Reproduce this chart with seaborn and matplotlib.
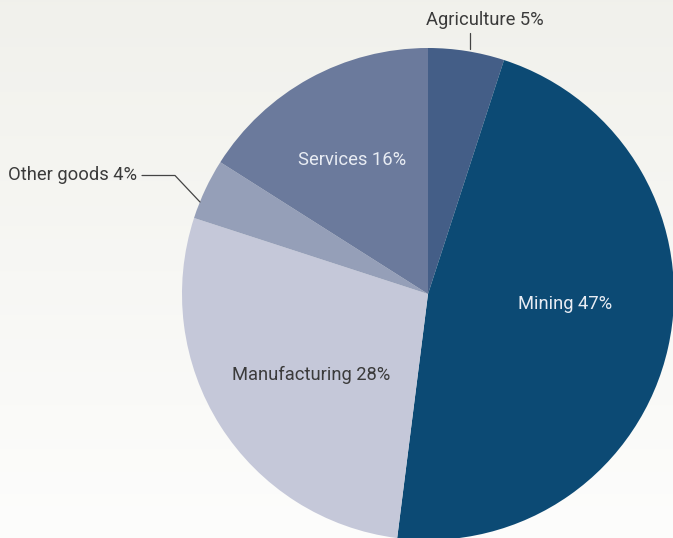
import matplotlib
matplotlib.use("Agg")
import matplotlib.pyplot as plt
import seaborn as sns
import numpy as np

# data
sectors = ["Agriculture", "Mining", "Manufacturing", "Other goods", "Services"]
shares = [5, 47, 28, 4, 16]
colors = ["#445e87", "#0c4a74", "#c5c8d9", "#959fb8", "#6b7a9c"]

sns.set_theme(style="white")
plt.rcParams["font.family"] = ["Roboto", "DejaVu Sans"]

W, H = 673, 538
fig = plt.figure(figsize=(W / 100, H / 100), dpi=100)

# soft vertical background gradient
bg = fig.add_axes([0, 0, 1, 1])
grad = np.linspace(0, 1, 256).reshape(-1, 1)
top = np.array([0.945, 0.945, 0.925])
bot = np.array([0.992, 0.992, 0.988])
img = top + (bot - top) * grad[..., None]
bg.imshow(img, aspect="auto", extent=[0, 1, 0, 1])
bg.axis("off")

# pie axes, centre (428, 294) px, radius 246 px
cx, cy, r = 428, 294, 246
ax = fig.add_axes([(cx - r) / W, (H - cy - r) / H, 2 * r / W, 2 * r / H])
ax.pie(shares, colors=sns.color_palette(colors), startangle=90, counterclock=False,
       radius=1, wedgeprops=dict(linewidth=0))
ax.set_xlim(-1, 1)
ax.set_ylim(-1, 1)
ax.set_aspect("auto")
ax.axis("off")


def px(x, y):
    return (x - cx) / r, (cy - y) / r


fs = 13.2
dark = "#3b3b3b"
light = "#e8ecf3"
txt = dict(va="center", fontsize=fs)

lbl = [f"{s} {v}%" for s, v in zip(sectors, shares)]

ax.text(*px(485, 20), lbl[0], ha="center", color=dark, clip_on=False, **txt)
ax.plot(*zip(px(470, 33), px(470, 49)), color="#444444", lw=0.9, clip_on=False)

ax.text(*px(565, 304), lbl[1], ha="center", color=light, **txt)
ax.text(*px(311, 375), lbl[2], ha="center", color=dark, **txt)

ax.text(*px(137, 175), lbl[3], ha="right", color=dark, clip_on=False, **txt)
ax.plot(*zip(px(142, 175.5), px(175, 175.5), px(200, 202)), color="#444444", lw=0.9, clip_on=False)

ax.text(*px(352, 160), lbl[4], ha="center", color=light, **txt)

fig.savefig("out.png", dpi=100)
